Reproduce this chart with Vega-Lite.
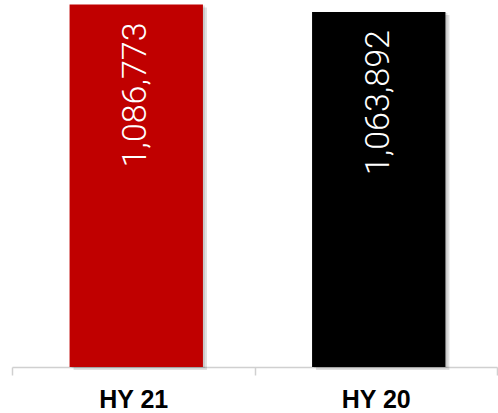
{
  "$schema": "https://vega.github.io/schema/vega-lite/v6.json",
  "width": 485,
  "height": 367,
  "autosize": {"type": "none"},
  "padding": {"left": 12, "top": 0, "right": 1, "bottom": 46},
  "background": "white",
  "config": {"view": {"stroke": null}},
  "data": {
    "values": [
      {"period": "HY 21", "value": 1086773, "color": "#C00000"},
      {"period": "HY 20", "value": 1063892, "color": "#000000"}
    ]
  },
  "encoding": {
    "x": {
      "field": "period",
      "type": "nominal",
      "sort": null,
      "scale": {"paddingInner": 0, "paddingOuter": 0},
      "axis": {
        "title": null,
        "labelAngle": 0,
        "labelFont": "Liberation Sans",
        "labelFontWeight": "bold",
        "labelFontSize": 25,
        "labelColor": "#000000",
        "labelPadding": 12,
        "tickSize": 8,
        "tickBand": "extent",
        "tickColor": "#d0d0d0",
        "tickWidth": 1.5,
        "domainColor": "#d0d0d0",
        "domainWidth": 1.5
      }
    },
    "y": {
      "field": "value",
      "type": "quantitative",
      "scale": {"domain": [0, 1100000], "nice": false},
      "axis": null
    }
  },
  "layer": [
    {
      "mark": {"type": "bar", "color": "#000000", "opacity": 0.12, "width": {"band": 0.55}, "xOffset": 7, "yOffset": 3},
      "encoding": {}
    },
    {
      "mark": {"type": "bar", "color": "#000000", "opacity": 0.1, "width": {"band": 0.55}, "xOffset": 5, "yOffset": 1},
      "encoding": {}
    },
    {
      "mark": {"type": "bar", "width": {"band": 0.55}, "xOffset": 3},
      "encoding": {"color": {"field": "color", "type": "nominal", "scale": null, "legend": null}}
    },
    {
      "mark": {
        "type": "text",
        "angle": -90,
        "align": "right",
        "baseline": "middle",
        "dx": -18,
        "xOffset": 3,
        "font": "Roboto",
        "fontWeight": 300,
        "fontSize": 34,
        "color": "white"
      },
      "encoding": {"text": {"field": "value", "type": "quantitative", "format": ","}}
    }
  ]
}
